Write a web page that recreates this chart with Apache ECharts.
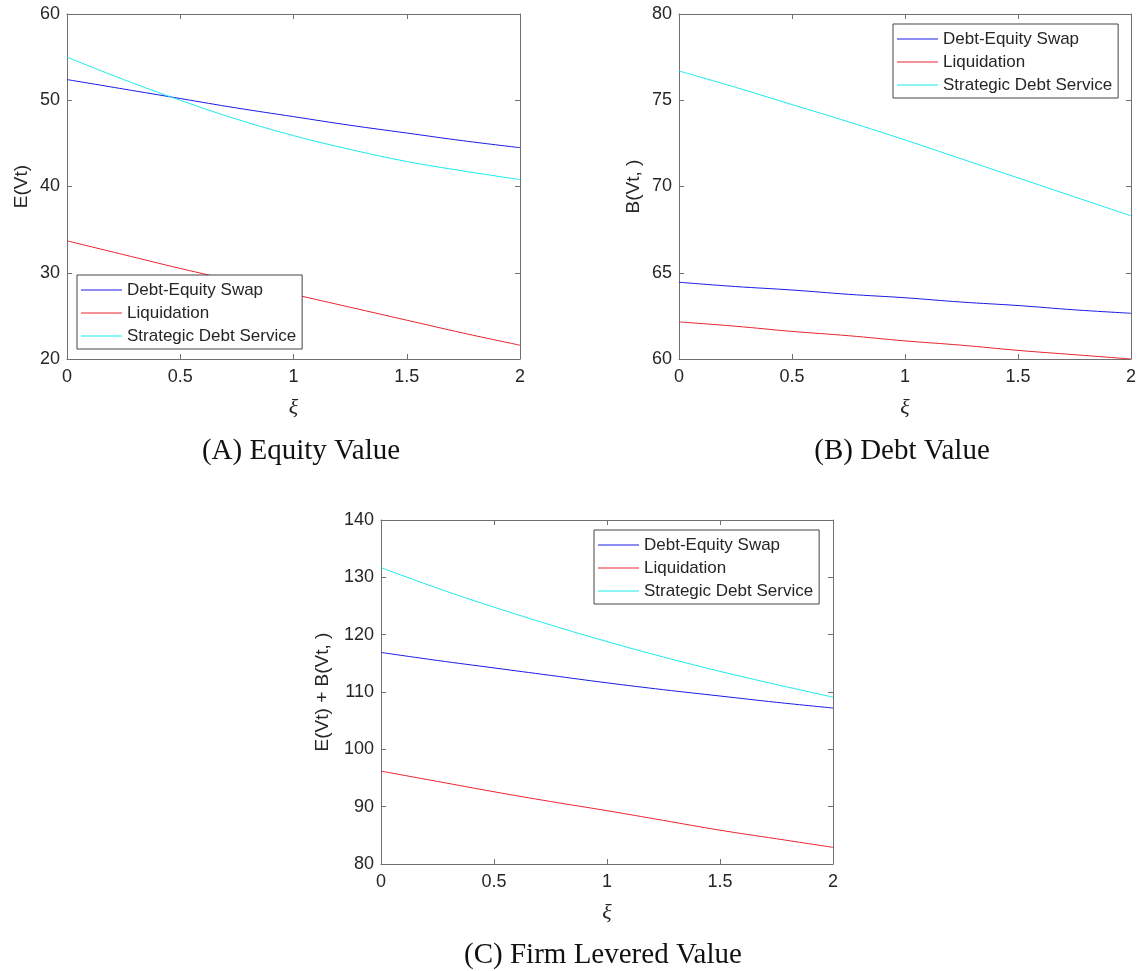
<!DOCTYPE html>
<html><head><meta charset="utf-8">
<script src="https://cdn.jsdelivr.net/npm/echarts@6/dist/echarts.min.js"></script>
<style>html,body{margin:0;padding:0;background:#fff}#c{width:1141px;height:971px}</style>
</head><body><div id="c"></div>
<script>
// ---- data ----
const xi = [0, 0.25, 0.5, 0.75, 1, 1.25, 1.5, 1.75, 2];
const seriesNames = ['Debt-Equity Swap', 'Liquidation', 'Strategic Debt Service'];

const equityDES = [52.4, 51.3, 50.2, 49.1, 48.1, 47.1, 46.2, 45.3, 44.5];
const equityLiq = [33.7, 32.1, 30.5, 29.0, 27.5, 26.0, 24.5, 23.0, 21.6];
const equitySDS = [55.0, 52.4, 50.0, 47.8, 45.9, 44.3, 42.9, 41.8, 40.8];

const debtDES = [64.45, 64.2, 64.0, 63.75, 63.55, 63.3, 63.1, 62.85, 62.65];
const debtLiq = [62.15, 61.9, 61.6, 61.35, 61.05, 60.8, 60.5, 60.25, 60.0];
const debtSDS = [76.7, 75.75, 74.75, 73.75, 72.7, 71.6, 70.5, 69.4, 68.3];

const firmDES = [116.9, 115.5, 114.2, 112.9, 111.6, 110.4, 109.3, 108.2, 107.2];
const firmLiq = [96.2, 94.4, 92.6, 90.9, 89.3, 87.6, 85.9, 84.4, 82.9];
const firmSDS = [131.7, 128.1, 124.8, 121.7, 118.8, 116.1, 113.6, 111.3, 109.1];

const xTicks = [0, 0.5, 1, 1.5, 2];
const yTicksA = [20, 30, 40, 50, 60];
const yTicksB = [60, 65, 70, 75, 80];
const yTicksC = [80, 90, 100, 110, 120, 130, 140];

const captions = ['(A) Equity Value', '(B) Debt Value', '(C) Firm Levered Value'];
const yNames = ['E(Vt)', 'B(Vt, )', 'E(Vt) + B(Vt, )'];
const xName = 'ξ';

// ---- layout / style ----
const panels = [
  { grid: { left: 67, top: 14, width: 453, height: 345 }, yT: yTicksA, data: [equityDES, equityLiq, equitySDS], nameGap: 36, legend: { left: 77, top: 275 }, cap: { x: 296, y: 432 } },
  { grid: { left: 679, top: 14, width: 452, height: 345 }, yT: yTicksB, data: [debtDES, debtLiq, debtSDS], nameGap: 36, legend: { left: 893, top: 24 }, cap: { x: 897, y: 432 } },
  { grid: { left: 381, top: 520, width: 452, height: 344 }, yT: yTicksC, data: [firmDES, firmLiq, firmSDS], nameGap: 49, legend: { left: 594, top: 530 }, cap: { x: 598, y: 936 } }
];
const colors = ['#1a1ae6', '#e8242e', '#19eaea'];
const axisCol = '#707070';
const txtCol = '#262626';
const sans = 'Liberation Sans, Arial, sans-serif';
const serif = 'Liberation Serif, Times New Roman, serif';

const grid = [], xAxis = [], yAxis = [], series = [], legend = [], title = [];
panels.forEach((p, i) => {
  grid.push(p.grid);
  const xmin = xTicks[0], xmax = xTicks[xTicks.length - 1];
  const ymin = p.yT[0], ymax = p.yT[p.yT.length - 1], yint = p.yT[1] - p.yT[0];
  const line = { show: true, onZero: false, lineStyle: { color: axisCol, width: 1 } };
  const tick = { show: true, inside: true, length: 5, lineStyle: { color: axisCol } };
  xAxis.push({
    gridIndex: i, type: 'value', position: 'bottom', min: xmin, max: xmax, interval: 0.5,
    axisLine: line, axisTick: tick, splitLine: { show: false },
    axisLabel: { color: txtCol, fontFamily: sans, fontSize: 18, margin: 9 },
    name: xName, nameLocation: 'middle', nameGap: 38,
    nameTextStyle: { color: txtCol, fontFamily: serif, fontStyle: 'italic', fontSize: 22 }
  });
  xAxis.push({
    gridIndex: i, type: 'value', position: 'top', min: xmin, max: xmax, interval: 0.5,
    axisLine: line, axisTick: tick, splitLine: { show: false }, axisLabel: { show: false }
  });
  yAxis.push({
    gridIndex: i, type: 'value', position: 'left', min: ymin, max: ymax, interval: yint,
    axisLine: line, axisTick: tick, splitLine: { show: false },
    axisLabel: { color: txtCol, fontFamily: sans, fontSize: 18, margin: 7 },
    name: yNames[i], nameLocation: 'middle', nameGap: p.nameGap, nameRotate: 90,
    nameTextStyle: { color: txtCol, fontFamily: sans, fontSize: 19 }
  });
  yAxis.push({
    gridIndex: i, type: 'value', position: 'right', min: ymin, max: ymax, interval: yint,
    axisLine: line, axisTick: tick, splitLine: { show: false }, axisLabel: { show: false }
  });
  p.data.forEach((vals, k) => {
    series.push({
      type: 'line', name: seriesNames[k], xAxisIndex: 2 * i, yAxisIndex: 2 * i,
      data: xi.map((x, j) => [x, vals[j]]),
      symbol: 'none', smooth: 0.4, silent: true, animation: false,
      lineStyle: { color: colors[k], width: 1 }, itemStyle: { color: colors[k] }
    });
  });
  legend.push({
    data: seriesNames, orient: 'vertical', left: p.legend.left, top: p.legend.top,
    icon: 'rect', itemWidth: 41, itemHeight: 1, itemGap: 3,
    padding: [5, 6, 3, 4], backgroundColor: '#fff', borderColor: '#444', borderWidth: 1,
    textStyle: { color: txtCol, fontFamily: sans, fontSize: 17, lineHeight: 20 },
    selectedMode: false
  });
  title.push({
    text: captions[i], left: p.cap.x, top: p.cap.y, textAlign: 'center',
    textStyle: { color: '#111', fontFamily: serif, fontSize: 29, fontWeight: 'normal' }
  });
});

const chart = echarts.init(document.getElementById('c'), null, { renderer: 'canvas' });
chart.setOption({ animation: false, color: colors, grid, xAxis, yAxis, series, legend, title });
</script>
</body></html>
